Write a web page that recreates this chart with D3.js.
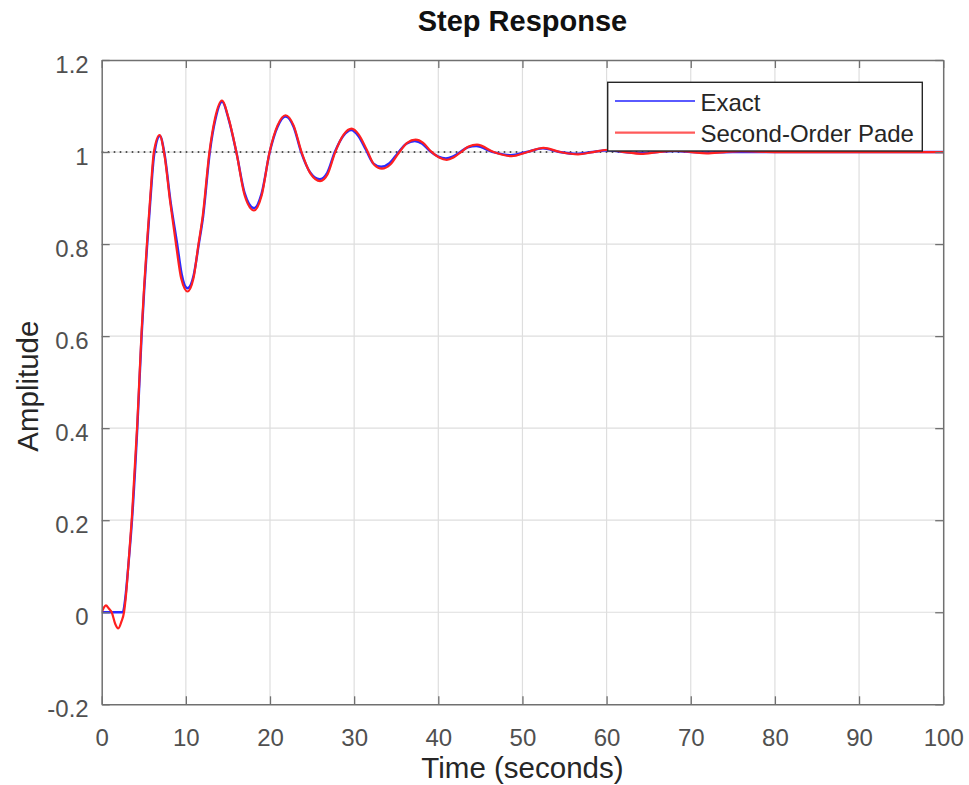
<!DOCTYPE html>
<html>
<head>
<meta charset="utf-8">
<script src="https://cdn.jsdelivr.net/npm/d3@7"></script>
<style>
  html, body { margin: 0; padding: 0; background: #ffffff; }
  svg { display: block; font-family: "Liberation Sans", Arial, Helvetica, sans-serif; }
</style>
</head>
<body>
<svg id="chart" width="969" height="785"></svg>
<script>
// ---------- data ----------
const timeExact = [0, 2.5, 2.8, 3.16, 3.6, 4.23, 4.74, 5.05, 5.41, 5.8, 6.24, 6.92, 7.43, 8.2, 8.97, 9.5, 10.2, 10.9, 11.54, 12.05, 12.85, 13.5, 14.31, 15.1, 16.0, 17.0, 18.1, 19.0, 19.97, 20.9, 21.86, 22.8, 23.7, 24.8, 25.9, 26.8, 27.7, 28.7, 29.66, 30.5, 31.4, 32.3, 33.2, 34.2, 35.2, 36.2, 37.2, 38.1, 39.0, 40.0, 40.9, 41.7, 42.6, 43.5, 44.5, 46.5, 48.6, 50.5, 52.4, 54.4, 56.5, 58.3, 60.2, 62.1, 64.0, 66.0, 68.0, 70.0, 71.8, 75, 80, 90, 100];
const ampExact  = [0, 0, 0.03, 0.10, 0.2, 0.4, 0.6, 0.7, 0.8, 0.9, 0.995, 1.035, 1.0, 0.89, 0.8, 0.735, 0.704, 0.73, 0.8, 0.86, 1.0, 1.07, 1.109, 1.07, 1.0, 0.91, 0.878, 0.91, 1.0, 1.055, 1.077, 1.055, 1.0, 0.955, 0.941, 0.955, 1.0, 1.035, 1.048, 1.035, 1.005, 0.975, 0.968, 0.976, 0.998, 1.018, 1.024, 1.018, 1.002, 0.99, 0.986, 0.99, 1.0, 1.01, 1.013, 1.0, 0.993, 1.0, 1.008, 1.0, 0.996, 1.0, 1.004, 1.0, 0.998, 1.0, 1.002, 1.0, 0.999, 1.0, 1.0, 1.0, 1.0];

const timePade = [0, 0.25, 0.5, 0.85, 1.19, 1.6, 1.97, 2.35, 2.65, 2.9, 3.16, 3.6, 4.23, 4.74, 5.05, 5.41, 5.8, 6.2, 6.88, 7.4, 8.15, 8.9, 9.45, 10.2, 10.9, 11.5, 12.0, 12.8, 13.45, 14.28, 15.1, 16.0, 17.0, 18.1, 19.0, 19.95, 20.9, 21.85, 22.8, 23.75, 24.85, 25.95, 26.85, 27.75, 28.75, 29.7, 30.55, 31.5, 32.4, 33.3, 34.3, 35.3, 36.3, 37.3, 38.2, 39.1, 40.1, 41.0, 41.8, 42.7, 43.6, 44.6, 46.6, 48.7, 50.6, 52.5, 54.5, 56.6, 58.4, 60.3, 62.2, 64.1, 66.1, 68.1, 70.1, 71.9, 74, 76, 80, 90, 100];
const ampPade  = [0, 0.01, 0.015, 0.008, 0, -0.025, -0.035, -0.02, 0, 0.04, 0.10, 0.21, 0.41, 0.61, 0.71, 0.81, 0.91, 1.0, 1.037, 1.0, 0.89, 0.79, 0.725, 0.697, 0.725, 0.8, 0.86, 1.0, 1.072, 1.112, 1.072, 1.0, 0.905, 0.873, 0.905, 1.0, 1.058, 1.08, 1.058, 1.0, 0.952, 0.937, 0.952, 1.0, 1.038, 1.051, 1.038, 1.005, 0.972, 0.964, 0.973, 0.998, 1.02, 1.027, 1.02, 1.002, 0.988, 0.983, 0.988, 1.0, 1.012, 1.016, 1.0, 0.991, 1.0, 1.009, 1.0, 0.995, 1.0, 1.005, 1.0, 0.996, 1.0, 1.003, 1.0, 0.997, 1.0, 1.002, 1.0, 1.0, 1.0];

const seriesNames = ["Exact", "Second-Order Pade"];
const xTicks = [0, 10, 20, 30, 40, 50, 60, 70, 80, 90, 100];
const xTickLabels = ["0", "10", "20", "30", "40", "50", "60", "70", "80", "90", "100"];
const yTicks = [-0.2, 0, 0.2, 0.4, 0.6, 0.8, 1, 1.2];
const yTickLabels = ["-0.2", "0", "0.2", "0.4", "0.6", "0.8", "1", "1.2"];
const steadyState = [1];
const titleText = "Step Response";
const xLabelText = "Time (seconds)";
const yLabelText = "Amplitude";

// ---------- layout ----------
const svg = d3.select("#chart");
const L = 101.7, R = 943.2, T = 60, B = 704.3;
const x = d3.scaleLinear().domain([0, 100]).range([L, R]);
const y = d3.scaleLinear().domain([-0.2, 1.2]).range([B, T]);

const axisColor = "#707070";
const tickTextColor = "#505050";

// grid
const grid = svg.append("g");
grid.selectAll("line.gx").data(xTicks.slice(1, -1)).join("line")
  .attr("x1", d => x(d)).attr("x2", d => x(d)).attr("y1", T).attr("y2", B)
  .attr("stroke", "#dedede").attr("stroke-width", 1.2);
grid.selectAll("line.gy").data(yTicks.slice(1, -1)).join("line")
  .attr("x1", L).attr("x2", R).attr("y1", d => y(d)).attr("y2", d => y(d))
  .attr("stroke", "#dedede").attr("stroke-width", 1.2);

// steady-state dotted line
svg.selectAll("line.ss").data(steadyState).join("line")
  .attr("x1", L).attr("x2", R).attr("y1", d => y(d)).attr("y2", d => y(d))
  .attr("stroke", "#222").attr("stroke-width", 1.6).attr("stroke-dasharray", "1.6,4.4");

// curves
const line = d3.line().x(d => x(d[0])).y(d => y(d[1])).curve(d3.curveMonotoneX);
const exactData = timeExact.map((t, i) => [t, ampExact[i]]);
const padeData = timePade.map((t, i) => [t, ampPade[i]]);
svg.append("clipPath").attr("id", "clip").append("rect")
  .attr("x", L).attr("y", T).attr("width", R - L).attr("height", B - T);
const curves = svg.append("g").attr("clip-path", "url(#clip)");
curves.append("path").datum(exactData).attr("d", line)
  .attr("fill", "none").attr("stroke", "#2a2aff").attr("stroke-width", 2.4);
curves.append("path").datum(padeData).attr("d", line)
  .attr("fill", "none").attr("stroke", "#ff2020").attr("stroke-width", 2.2);

// axes
const fs = 24;
const xAxis = d3.axisBottom(x).tickValues(xTicks).tickFormat((d, i) => xTickLabels[i])
  .tickSizeInner(-8).tickSizeOuter(0).tickPadding(26);
const gx = svg.append("g").attr("transform", `translate(0,${B})`).call(xAxis);
const yAxis = d3.axisLeft(y).tickValues(yTicks).tickFormat((d, i) => yTickLabels[i])
  .tickSizeInner(-8).tickSizeOuter(0).tickPadding(13);
const gy = svg.append("g").attr("transform", `translate(${L},0)`).call(yAxis);
const gxt = svg.append("g").attr("transform", `translate(0,${T})`)
  .call(d3.axisTop(x).tickValues(xTicks).tickFormat("").tickSizeInner(-8).tickSizeOuter(0));
const gyr = svg.append("g").attr("transform", `translate(${R},0)`)
  .call(d3.axisRight(y).tickValues(yTicks).tickFormat("").tickSizeInner(-8).tickSizeOuter(0));
[gx, gy, gxt, gyr].forEach(g => {
  g.select(".domain").attr("stroke", axisColor).attr("stroke-width", 1.5);
  g.selectAll(".tick line").attr("stroke", axisColor).attr("stroke-width", 1.3);
  g.selectAll(".tick text").attr("fill", tickTextColor)
    .attr("font-size", fs).attr("font-family", "Liberation Sans, Arial, sans-serif");
});
gx.selectAll(".tick text").attr("dy", "0").attr("y", 41.5);
gy.selectAll(".tick text").attr("dy", "0.5em");

// titles
svg.append("text").attr("x", (L + R) / 2).attr("y", 31).attr("text-anchor", "middle")
  .attr("font-size", 29).attr("font-weight", "bold").attr("fill", "#111").text(titleText);
svg.append("text").attr("x", (L + R) / 2).attr("y", 778).attr("text-anchor", "middle")
  .attr("font-size", 29.5).attr("fill", "#262626").text(xLabelText);
svg.append("text").attr("transform", `translate(38,${(T + B) / 2 + 4}) rotate(-90)`)
  .attr("text-anchor", "middle").attr("font-size", 29.5).attr("fill", "#262626").text(yLabelText);

// legend
const lg = svg.append("g");
lg.append("rect").attr("x", 607.7).attr("y", 82.3).attr("width", 314.6).attr("height", 68.7)
  .attr("fill", "#fff").attr("stroke", "#262626").attr("stroke-width", 1.4);
const legendColors = ["#5a5aff", "#ff5a5a"];
const legendY = [101, 132.7];
seriesNames.forEach((name, i) => {
  lg.append("line").attr("x1", 615).attr("x2", 695).attr("y1", legendY[i]).attr("y2", legendY[i])
    .attr("stroke", legendColors[i]).attr("stroke-width", 2.2);
  lg.append("text").attr("x", 700.5).attr("y", legendY[i] + 9.5)
    .attr("font-size", 24).attr("fill", "#262626").text(name);
});
</script>
</body>
</html>
